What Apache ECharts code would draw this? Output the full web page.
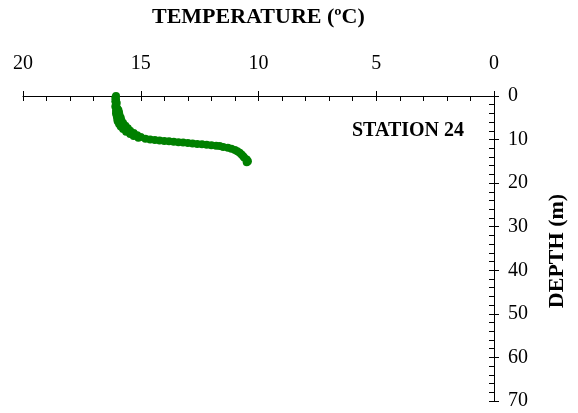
<!DOCTYPE html>
<html>
<head>
<meta charset="utf-8">
<script src="https://cdn.jsdelivr.net/npm/echarts@6/dist/echarts.min.js"></script>
<style>html,body{margin:0;padding:0;background:#fff}#c{width:578px;height:413px}</style>
</head>
<body>
<div id="c"></div>
<script>
// Station 24 profile: depth (m) and temperature (°C)
var depth = [0.0,0.4,0.8,1.2,1.6,2.0,2.4,2.8,3.2,3.4,3.8,4.0,4.4,4.6,5.0,5.2,5.6,5.8,6.2,6.4,6.8,7.0,7.4,7.6,8.0,8.2,8.5,8.7,9.0,9.2,9.4,9.6,9.8,10.0,10.1,10.2,10.3,10.4,10.5,10.6,10.7,10.8,10.9,11.0,11.1,11.2,11.3,11.4,11.5,11.7,11.9,12.1,12.4,12.7,13.0,13.4,13.8,14.2,14.6,15.0,15.2];
var temperature = [16.05,16.08,16.05,16.08,16.02,16.05,16.08,16.0,15.95,16.05,15.92,16.05,15.9,16.02,15.85,16.0,15.82,15.98,15.75,15.92,15.65,15.85,15.55,15.75,15.45,15.62,15.3,15.45,15.15,15.3,15.0,15.1,14.8,14.6,14.4,14.2,14.0,13.8,13.6,13.4,13.2,13.0,12.8,12.6,12.4,12.2,12.0,11.8,11.65,11.5,11.3,11.15,11.0,10.9,10.8,10.72,10.65,10.6,10.5,10.45,10.5];
var tempTicks = [0, 5, 10, 15, 20];
var depthTicks = [0, 10, 20, 30, 40, 50, 60, 70];

var points = depth.map(function (d, i) { return [temperature[i], d]; });
var FONT = '"Liberation Serif", "Times New Roman", serif';

var chart = echarts.init(document.getElementById('c'), null, {renderer: 'canvas'});
var gridRect = {left: 23, right: 84, top: 96, bottom: 12};
var lineStyle = {color: '#000', width: 1};

function xAx(grid, inside, main) {
  return {
    type: 'value', gridIndex: grid, position: 'top', inverse: true,
    min: tempTicks[0], max: tempTicks[tempTicks.length - 1], interval: 5,
    axisLine: {show: main, onZero: false, lineStyle: lineStyle},
    axisTick: {show: true, inside: inside, length: 5, lineStyle: lineStyle},
    minorTick: {show: main, splitNumber: 5, length: 5, lineStyle: lineStyle},
    splitLine: {show: false},
    axisLabel: {show: main, fontFamily: FONT, fontSize: 20, color: '#000', margin: 22}
  };
}
function yAx(grid, inside, main) {
  return {
    type: 'value', gridIndex: grid, position: 'right', inverse: true,
    min: depthTicks[0], max: depthTicks[depthTicks.length - 1], interval: 10,
    axisLine: {show: main, onZero: false, lineStyle: lineStyle},
    axisTick: {show: true, inside: inside, length: 5, lineStyle: lineStyle},
    minorTick: {show: main, splitNumber: 5, length: 5, lineStyle: lineStyle},
    splitLine: {show: false},
    axisLabel: {show: main, fontFamily: FONT, fontSize: 20, color: '#000', margin: 14}
  };
}

chart.setOption({
  animation: false,
  backgroundColor: '#fff',
  grid: [Object.assign({}, gridRect), Object.assign({}, gridRect)],
  xAxis: [xAx(0, true, true), xAx(1, false, false)],
  yAxis: [yAx(0, true, true), yAx(1, false, false)],
  series: [{
    type: 'scatter', xAxisIndex: 0, yAxisIndex: 0,
    data: points, symbol: 'circle', symbolSize: 8,
    itemStyle: {color: '#008000', opacity: 1}
  }],
  graphic: [
    {type: 'text', left: 152, top: 6, style: {text: 'TEMPERATURE (ºC)', font: 'bold 22px ' + FONT, fill: '#000'}},
    {type: 'text', left: 352, top: 121, style: {text: 'STATION 24', font: 'bold 20px ' + FONT, fill: '#000'}},
    {type: 'text', x: 557, y: 251, rotation: Math.PI / 2,
      style: {text: 'DEPTH (m)', font: 'bold 22px ' + FONT, fill: '#000', align: 'center', verticalAlign: 'middle'}}
  ]
});
</script>
</body>
</html>
